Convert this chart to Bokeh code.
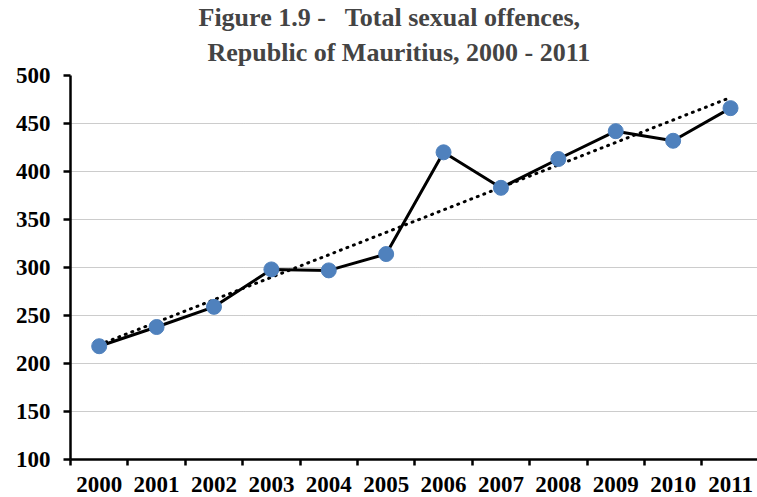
import numpy as np
from bokeh.plotting import figure
from bokeh.models import Range1d, FixedTicker, Title, ColumnDataSource
from bokeh.embed import file_html
from bokeh.resources import INLINE

years = ["2000", "2001", "2002", "2003", "2004", "2005",
         "2006", "2007", "2008", "2009", "2010", "2011"]
offences = [218, 238, 259, 298, 297, 314, 420, 383, 413, 442, 432, 466]
y_ticks = [100, 150, 200, 250, 300, 350, 400, 450, 500]
title_line1 = "Figure 1.9 -\u00a0\u00a0 Total sexual offences,"
title_line2 = "Republic of Mauritius, 2000 - 2011"

FONT = "Liberation Serif"

idx = np.arange(len(years))
xc = idx + 0.5
slope, intercept = np.polyfit(idx, np.array(offences, dtype=float), 1)
trend = intercept + slope * idx

p = figure(width=757, height=497, output_backend="svg", toolbar_location=None,
           x_range=Range1d(0, 11.97), y_range=Range1d(100, 500),
           min_border_left=70, min_border_right=0, min_border_top=75,
           min_border_bottom=38)
p.outline_line_color = None
p.background_fill_color = "white"
p.border_fill_color = "white"

t2 = Title(text=title_line2, align="left", text_font=FONT,
           text_font_size="26px", text_font_style="bold", offset=137, standoff=18)
t1 = Title(text=title_line1, align="left", text_font=FONT,
           text_font_size="26px", text_font_style="bold", offset=128, standoff=-10)
p.add_layout(t2, "above")
p.add_layout(t1, "above")

# x axis
p.xaxis.ticker = FixedTicker(ticks=list(xc), minor_ticks=list(range(len(years) + 1)))
p.xaxis.major_label_overrides = {float(x): y for x, y in zip(xc, years)}
p.xaxis.major_tick_out = 0
p.xaxis.major_tick_in = 0
p.xaxis.minor_tick_out = 6
p.xaxis.minor_tick_in = 0
p.xaxis.minor_tick_line_width = 2.5
p.xaxis.axis_line_width = 2.5
p.xaxis.major_label_text_font = FONT
p.xaxis.major_label_text_font_size = "23px"
p.xaxis.major_label_text_font_style = "bold"
p.xaxis.major_label_text_color = "black"
p.xaxis.major_label_standoff = 11

# y axis
p.yaxis.ticker = FixedTicker(ticks=y_ticks)
p.yaxis.major_tick_out = 7
p.yaxis.major_tick_in = 0
p.yaxis.major_tick_line_width = 2.5
p.yaxis.minor_tick_line_color = None
p.yaxis.axis_line_width = 2.5
p.yaxis.major_label_text_font = FONT
p.yaxis.major_label_text_font_size = "23px"
p.yaxis.major_label_text_font_style = "bold"
p.yaxis.major_label_text_color = "black"
p.yaxis.major_label_standoff = 13

p.xgrid.grid_line_color = None
p.ygrid.ticker = FixedTicker(ticks=y_ticks[1:])
p.ygrid.grid_line_color = "#999999"
p.ygrid.grid_line_width = 1
p.ygrid.grid_line_dash = "1 1"

src = ColumnDataSource(dict(x=xc, y=offences, t=trend))
p.line("x", "y", source=src, line_color="black", line_width=3)
p.line("x", "t", source=src, line_color="black", line_width=3,
       line_dash="1 6", line_cap="round")
p.scatter("x", "y", source=src, size=15, fill_color="#4F81BD",
          line_color="#4F81BD", line_width=1)

open("out.html", "w").write(file_html(p, INLINE))
